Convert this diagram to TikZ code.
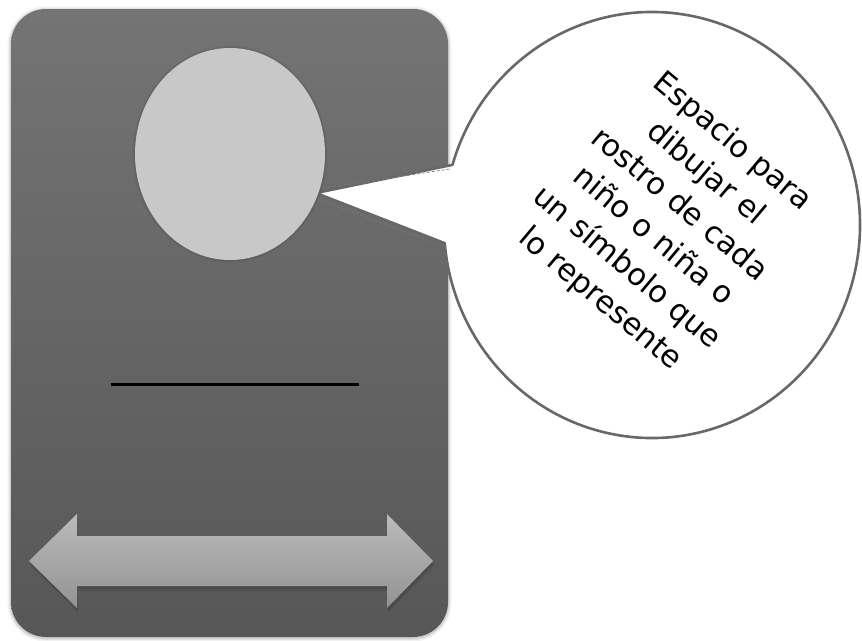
\documentclass[tikz,border=0pt]{standalone}
\usepackage{fontspec}
\newfontfamily\dejavu{DejaVu Sans}
\usetikzlibrary{calc}
\definecolor{cardtop}{HTML}{747474}
\definecolor{cardbot}{HTML}{575757}
\definecolor{facegray}{HTML}{C8C8C8}
\definecolor{bubbleline}{HTML}{686868}
\definecolor{arrowtop}{HTML}{BABABA}
\definecolor{arrowbot}{HTML}{939393}
\tikzset{
  cardbox/.style={top color=cardtop, bottom color=cardbot, rounded corners=35pt},
  facebox/.style={fill=facegray},
  bubblebox/.style={fill=white, draw=bubbleline, line width=2.6pt, line join=round},
  tailhl/.style={draw=gray!35!cardtop, dash pattern=on 3pt off 2pt, line width=0.7pt},
  bubbletext/.style={rotate=-40, align=center, text=black, font=\dejavu\fontsize{30.5}{41}\selectfont},
  dblarrow/.style={top color=arrowtop, bottom color=arrowbot, draw=none},
}
\begin{document}
\begin{tikzpicture}[x=1pt,y=1pt]
\useasboundingbox (0,0) rectangle (862,-640);
% soft shadow of the card
\foreach \o/\w in {0.05/7, 0.07/4, 0.08/2}{
  \draw[black, opacity=\o, line width=\w pt, rounded corners=35pt] (11,-10) rectangle (448,-638);
}
% card
\shade[cardbox] (11,-9) rectangle (448,-637);
% bubble centre and tail points
\coordinate (bc) at (652,-225);
\coordinate (tip) at (316,-193);
\coordinate (up) at ($(bc)+(163.6:208 and 213)$);
\coordinate (lo) at ($(bc)+(-175.1:208 and 213)$);
% speech bubble with tail
\path[bubblebox] (tip) -- (up) arc[start angle=163.6, end angle=-175.1, x radius=208, y radius=213] -- cycle;
\draw[tailhl] ($(tip)+(2,4)$) -- ($(up)+(-2,-4)$);
\draw[tailhl] ($(tip)+(2,-6)$) -- ($(lo)+(-4,-2)$);
% face circle
\coordinate (face) at (230,-154);
\foreach \o/\w in {0.04/5, 0.05/2.5}{
  \draw[black, opacity=\o, line width=\w pt] (face) ellipse [x radius=95, y radius=106];
}
\fill[facebox] (face) ellipse [x radius=95, y radius=106];
% name line
\coordinate (la) at (111,-384);
\coordinate (lb) at (359,-384);
\draw[black, line width=3pt] (la) -- (lb);
% double arrow
\foreach \o/\d in {0.1/3, 0.06/5}{
  \fill[black, opacity=\o] (29+1,-561-\d) -- (77+1,-514-\d) -- (77+1,-536-\d) -- (387+1,-536-\d) -- (387+1,-514-\d) -- (433+1,-561-\d) -- (387+1,-608-\d) -- (387+1,-586-\d) -- (77+1,-586-\d) -- (77+1,-608-\d) -- cycle;
}
\shade[dblarrow] (29,-561) -- (77,-514) -- (77,-536) -- (387,-536) -- (387,-514) -- (433,-561) -- (387,-608) -- (387,-586) -- (77,-586) -- (77,-608) -- cycle;
% text
\node[bubbletext] (txt) at (666,-221) {Espacio para\\dibujar el\\rostro de cada\\niño o niña o\\un símbolo que\\lo represente};
\end{tikzpicture}
\end{document}
